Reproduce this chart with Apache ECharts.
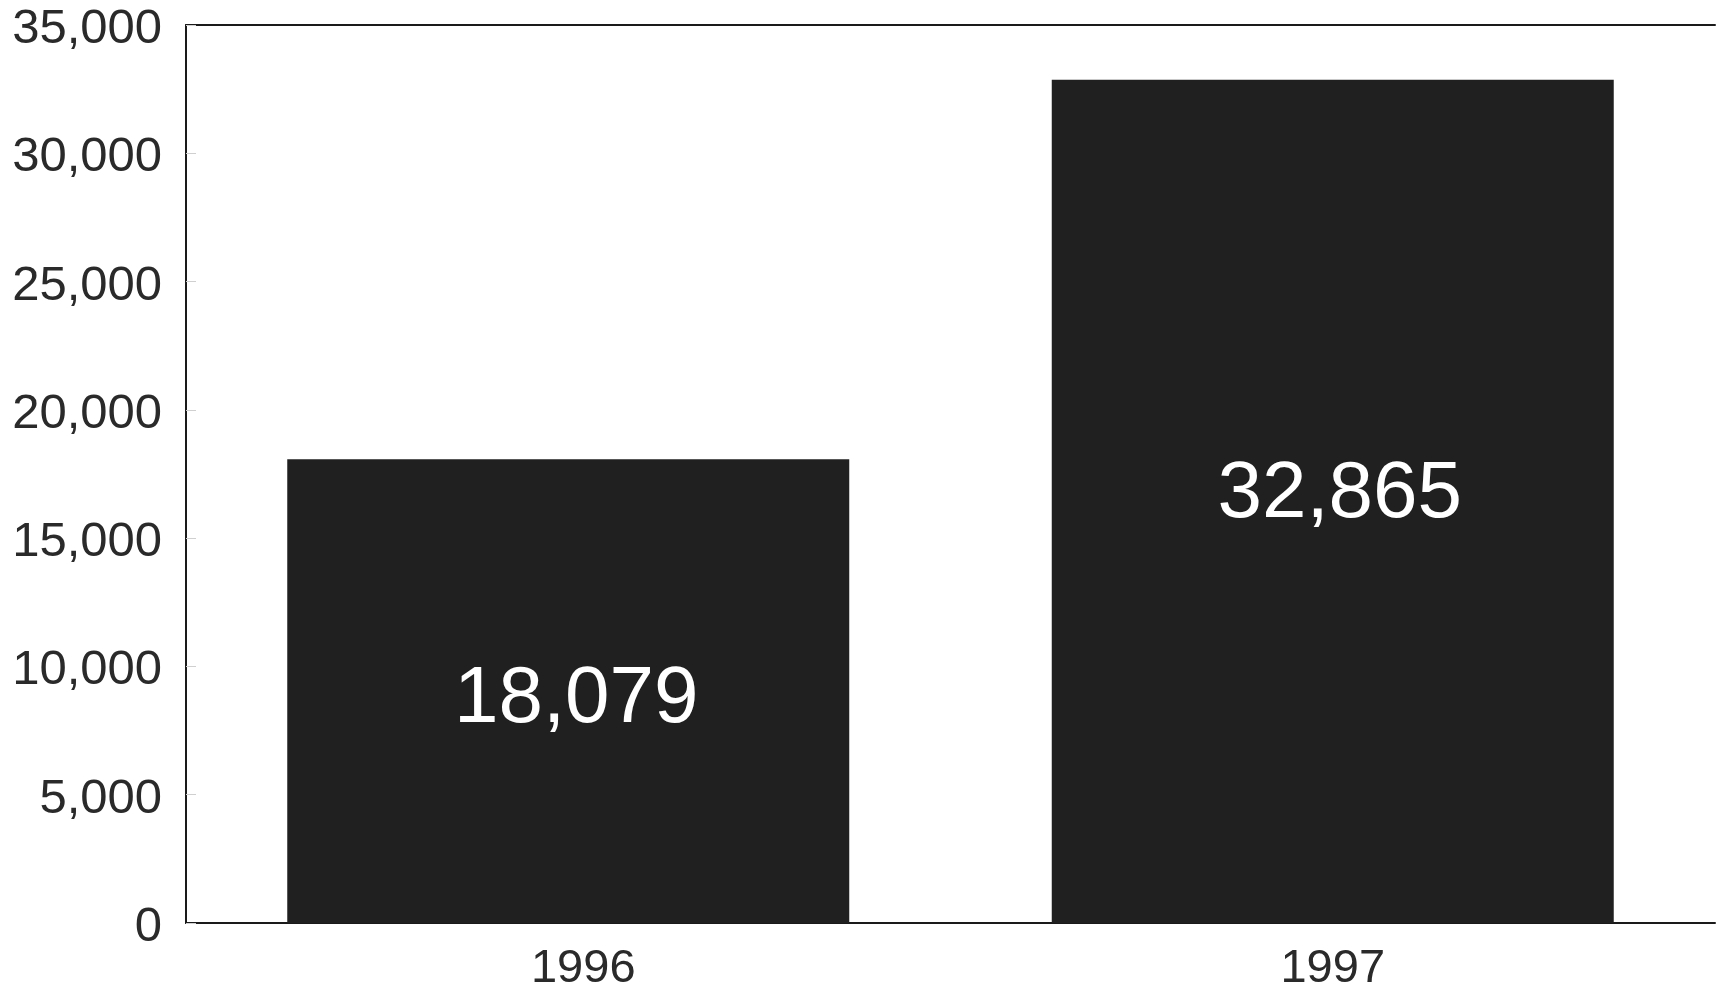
<!DOCTYPE html>
<html>
<head>
<meta charset="utf-8">
<title>1996–1997</title>
<script src="https://cdn.jsdelivr.net/npm/echarts@6/dist/echarts.min.js"></script>
<style>
  html, body { margin: 0; padding: 0; background: #ffffff; }
  #chart { width: 1716px; height: 990px; }
</style>
</head>
<body>
<div id="chart"></div>
<script>
// Yearly totals
const years = ['1996', '1997'];
const totals = [18079, 32865];

// Value-axis scale
const yMin = 0;
const yMax = 35000;
const yStep = 5000;

const fmt = v => v.toLocaleString('en-US');
const font = '"Liberation Sans", Arial, sans-serif';

// per-year nudges for the category and value labels
const catPad = [[0, 0, 0, 30], [0, 0, 0, 0]];
const valOffset = [[8, 9], [7, -6]];

const chart = echarts.init(document.getElementById('chart'), null, { renderer: 'canvas' });

chart.setOption({
  backgroundColor: '#ffffff',
  animation: false,
  grid: {
    left: 186, top: 25, width: 1529, bottom: 67,
    containLabel: false,
    outerBoundsMode: 'none'
  },
  xAxis: [
    {
      type: 'category',
      data: years.map((y, i) => ({ value: y, textStyle: { padding: catPad[i] } })),
      position: 'bottom',
      axisLine: { show: true, lineStyle: { color: '#1a1a1a', width: 2 } },
      axisTick: { show: false },
      axisLabel: { color: '#2a2a2a', fontFamily: font, fontSize: 47, margin: 23 }
    },
    {
      type: 'category',
      data: years,
      position: 'top',
      axisLine: { show: true, lineStyle: { color: '#1a1a1a', width: 2 } },
      axisTick: { show: false },
      axisLabel: { show: false }
    }
  ],
  yAxis: {
    type: 'value',
    min: yMin,
    max: yMax,
    interval: yStep,
    axisLine: { show: true, lineStyle: { color: '#1a1a1a', width: 2 } },
    axisTick: { show: true, inside: true, length: 10, lineStyle: { color: '#d0d0d0', width: 1 } },
    splitLine: { show: false },
    axisLabel: {
      color: '#2a2a2a',
      fontFamily: font,
      fontSize: 49,
      margin: 24,
      formatter: v => '{n|' + fmt(v) + '}',
      rich: {
        n: { fontFamily: font, fontSize: 49, color: '#2a2a2a', padding: [9, 0, 0, 0] }
      }
    }
  },
  series: [
    {
      type: 'bar',
      xAxisIndex: 0,
      data: totals.map((v, i) => ({
        value: v,
        label: { offset: valOffset[i] }
      })),
      barWidth: 562,
      itemStyle: { color: '#1f201f' },
      label: {
        show: true,
        position: 'inside',
        color: '#ffffff',
        fontFamily: font,
        fontSize: 80,
        formatter: p => fmt(p.value)
      }
    }
  ]
});
</script>
</body>
</html>
